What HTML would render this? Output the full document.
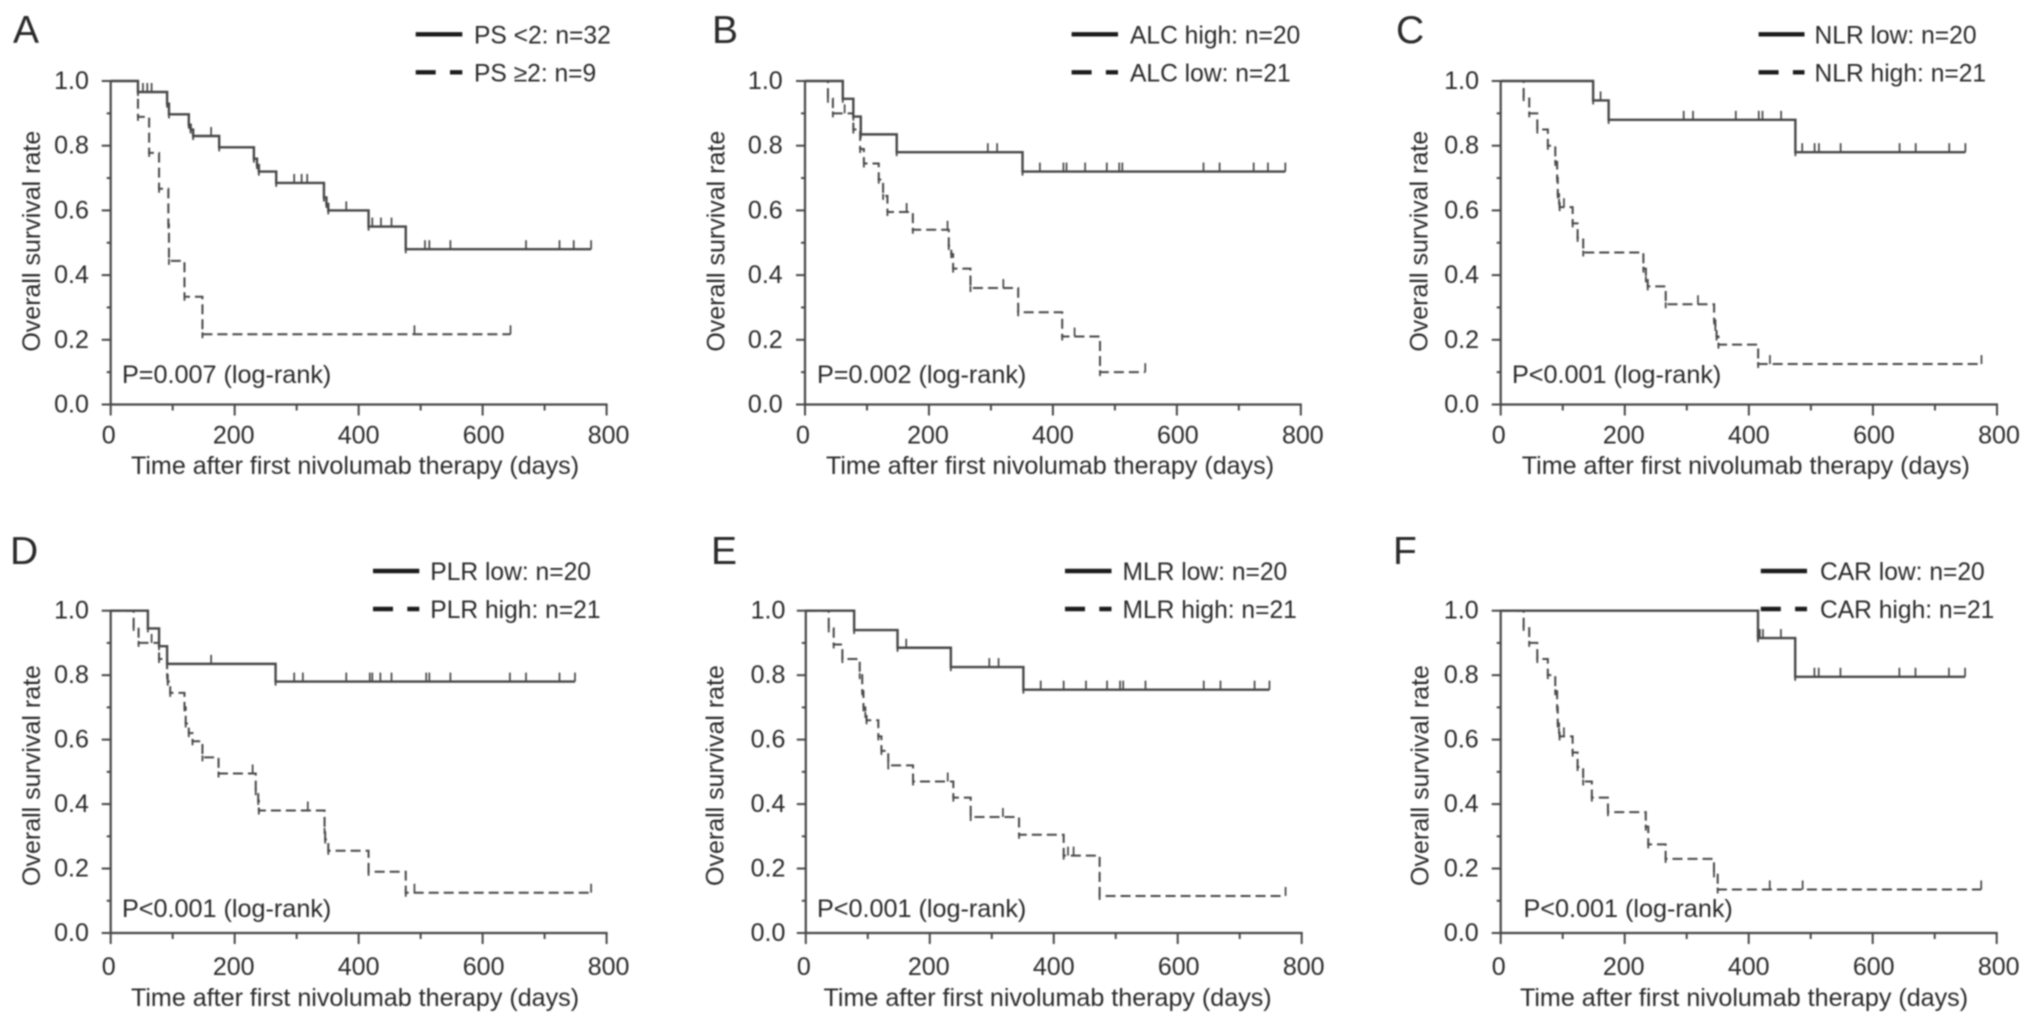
<!DOCTYPE html>
<html lang="en">
<head>
<meta charset="utf-8">
<title>Overall survival Kaplan-Meier curves</title>
<style>
html,body{margin:0;padding:0;background:#fff;}
#figure{display:block;width:2032px;height:1024px;filter:blur(0.7px);}
text{font-family:"Liberation Sans",sans-serif;fill:#2a2a2a;}
</style>
</head>
<body>
<svg id="figure" xmlns="http://www.w3.org/2000/svg" width="2032" height="1024" viewBox="0 0 2032 1024"></svg>
<script>
// Shared axis values
const xTickValues = [0, 200, 400, 600, 800];
const xMinorTickValues = [100, 300, 500, 700];
const yTickValues = [0, 0.2, 0.4, 0.6, 0.8, 1];
const yMinorTickValues = [0.1, 0.3, 0.5, 0.7, 0.9];
const yTickLabels = ['0.0', '0.2', '0.4', '0.6', '0.8', '1.0'];
const xTickLabels = ['0', '200', '400', '600', '800'];

// Panel A
const aSolidDays = [44, 91, 94, 126, 129, 133, 175, 231, 236, 239, 267, 344, 348, 351, 416, 476, 775];
const aSolidSurvival = [0.966, 0.93, 0.897, 0.865, 0.85, 0.83, 0.795, 0.76, 0.74, 0.72, 0.685, 0.64, 0.62, 0.6, 0.55, 0.48, 0.48];
const aSolidCensored = [52, 59, 66, 162, 296, 308, 317, 380, 422, 436, 453, 507, 514, 548, 670, 724, 747, 775];
const aDashedDays = [44, 62, 78, 93, 94, 119, 148, 645];
const aDashedSurvival = [0.889, 0.778, 0.667, 0.556, 0.444, 0.333, 0.217, 0.217];
const aDashedCensored = [490, 645];

// Panel B
const bSolidDays = [61, 78, 90, 148, 351, 775];
const bSolidSurvival = [0.945, 0.89, 0.835, 0.78, 0.72, 0.72];
const bSolidCensored = [295, 310, 379, 417, 422, 452, 487, 507, 512, 643, 669, 724, 747, 775];
const bDashedDays = [37, 45, 78, 89, 95, 119, 126, 133, 174, 232, 236, 239, 267, 344, 415, 476, 549];
const bDashedSurvival = [0.945, 0.9, 0.85, 0.79, 0.745, 0.695, 0.645, 0.595, 0.54, 0.49, 0.465, 0.42, 0.36, 0.285, 0.21, 0.1, 0.1];
const bDashedCensored = [64, 164, 230, 320, 435, 549];

// Panel C
const cSolidDays = [149, 174, 475, 749];
const cSolidSurvival = [0.94, 0.88, 0.78, 0.78];
const cSolidCensored = [161, 295, 310, 379, 416, 422, 452, 486, 506, 513, 548, 643, 669, 723, 749];
const cDashedDays = [37, 46, 59, 76, 88, 91, 92, 94, 95, 116, 124, 133, 230, 234, 237, 266, 344, 346, 348, 351, 415, 775];
const cDashedSurvival = [0.95, 0.9, 0.85, 0.8, 0.75, 0.7, 0.65, 0.63, 0.61, 0.56, 0.515, 0.47, 0.42, 0.39, 0.365, 0.31, 0.26, 0.24, 0.21, 0.185, 0.125, 0.125];
const cDashedCensored = [102, 318, 434, 775];

// Panel D
const dSolidDays = [60, 78, 91, 266, 749];
const dSolidSurvival = [0.945, 0.89, 0.835, 0.78, 0.78];
const dSolidCensored = [162, 296, 310, 380, 418, 422, 435, 453, 509, 514, 548, 644, 670, 724, 749];
const dDashedDays = [37, 45, 78, 91, 92, 96, 119, 121, 126, 132, 148, 174, 234, 238, 239, 345, 346, 351, 416, 476, 775];
const dDashedSurvival = [0.95, 0.9, 0.85, 0.8, 0.78, 0.745, 0.7, 0.65, 0.62, 0.595, 0.545, 0.495, 0.44, 0.41, 0.38, 0.32, 0.29, 0.255, 0.19, 0.125, 0.125];
const dDashedCensored = [66, 229, 318, 490, 775];

// Panel E
const eSolidDays = [78, 148, 234, 351, 748];
const eSolidSurvival = [0.94, 0.885, 0.825, 0.755, 0.755];
const eSolidCensored = [162, 296, 311, 379, 416, 452, 486, 507, 512, 548, 642, 669, 724, 748];
const eDashedDays = [37, 45, 59, 87, 91, 93, 96, 98, 117, 122, 133, 173, 238, 266, 344, 416, 474, 774];
const eDashedSurvival = [0.945, 0.895, 0.85, 0.8, 0.75, 0.7, 0.68, 0.66, 0.61, 0.565, 0.52, 0.47, 0.42, 0.36, 0.305, 0.24, 0.115, 0.115];
const eDashedCensored = [229, 318, 423, 432, 774];

// Panel F
const fSolidDays = [415, 475, 749];
const fSolidSurvival = [0.915, 0.795, 0.795];
const fSolidCensored = [418, 423, 452, 506, 513, 548, 643, 669, 723, 749];
const fDashedDays = [37, 46, 59, 76, 88, 91, 92, 94, 95, 116, 124, 133, 147, 173, 234, 238, 266, 344, 350, 775];
const fDashedSurvival = [0.95, 0.9, 0.85, 0.8, 0.75, 0.7, 0.65, 0.63, 0.61, 0.56, 0.515, 0.47, 0.42, 0.375, 0.33, 0.275, 0.23, 0.185, 0.135, 0.135];
const fDashedCensored = [102, 434, 487, 775];

const panels = [
  {key:'a', letter:'A', letterX:13, letterY:43, x0:110.7, x800:606.6, yTop:81, yBottom:404.5, yLabelX:88.9, yTitleX:39.9, yTitleY:241.2, xTitleX:355, xTitleY:474, xLabelY:443.3,
   legendLine:[415.7,462.3], legendText:474, legendY:[34.3,72.3], legend:['PS <2: n=32','PS ≥2: n=9'], pX:122, pY:383, pText:'P=0.007 (log-rank)',
   solidDays:aSolidDays, solidSurvival:aSolidSurvival, solidCensored:aSolidCensored, dashedDays:aDashedDays, dashedSurvival:aDashedSurvival, dashedCensored:aDashedCensored},
  {key:'b', letter:'B', letterX:712, letterY:43, x0:805, x800:1300.8, yTop:81, yBottom:404.5, yLabelX:782.7, yTitleX:724.7, yTitleY:241.2, xTitleX:1050, xTitleY:474, xLabelY:443.3,
   legendLine:[1071.6,1118], legendText:1130, legendY:[34.3,72.3], legend:['ALC high: n=20','ALC low: n=21'], pX:817, pY:383, pText:'P=0.002 (log-rank)',
   solidDays:bSolidDays, solidSurvival:bSolidSurvival, solidCensored:bSolidCensored, dashedDays:bDashedDays, dashedSurvival:bDashedSurvival, dashedCensored:bDashedCensored},
  {key:'c', letter:'C', letterX:1396, letterY:43, x0:1500.7, x800:1997, yTop:81, yBottom:404.5, yLabelX:1479, yTitleX:1427.7, yTitleY:241.2, xTitleX:1745.8, xTitleY:474, xLabelY:443.3,
   legendLine:[1758.6,1804.5], legendText:1814.5, legendY:[34.3,72.3], legend:['NLR low: n=20','NLR high: n=21'], pX:1512, pY:383, pText:'P<0.001 (log-rank)',
   solidDays:cSolidDays, solidSurvival:cSolidSurvival, solidCensored:cSolidCensored, dashedDays:cDashedDays, dashedSurvival:cDashedSurvival, dashedCensored:cDashedCensored},
  {key:'d', letter:'D', letterX:10, letterY:564, x0:110.7, x800:606.6, yTop:610.7, yBottom:933, yLabelX:88.9, yTitleX:39.9, yTitleY:775.5, xTitleX:355, xTitleY:1006, xLabelY:975,
   legendLine:[373,419.3], legendText:430.3, legendY:[571,609], legend:['PLR low: n=20','PLR high: n=21'], pX:122, pY:917, pText:'P<0.001 (log-rank)',
   solidDays:dSolidDays, solidSurvival:dSolidSurvival, solidCensored:dSolidCensored, dashedDays:dDashedDays, dashedSurvival:dDashedSurvival, dashedCensored:dDashedCensored},
  {key:'e', letter:'E', letterX:711, letterY:564, x0:805.8, x800:1301.7, yTop:610.7, yBottom:933, yLabelX:785.4, yTitleX:723.4, yTitleY:775.5, xTitleX:1047.6, xTitleY:1006, xLabelY:975,
   legendLine:[1065,1111.5], legendText:1122.5, legendY:[571,609], legend:['MLR low: n=20','MLR high: n=21'], pX:817, pY:917, pText:'P<0.001 (log-rank)',
   solidDays:eSolidDays, solidSurvival:eSolidSurvival, solidCensored:eSolidCensored, dashedDays:eDashedDays, dashedSurvival:eDashedSurvival, dashedCensored:eDashedCensored},
  {key:'f', letter:'F', letterX:1393, letterY:564, x0:1500.7, x800:1996.7, yTop:610.7, yBottom:933, yLabelX:1478.7, yTitleX:1428.6, yTitleY:775.5, xTitleX:1744, xTitleY:1006, xLabelY:975,
   legendLine:[1760.8,1807], legendText:1820, legendY:[571,609], legend:['CAR low: n=20','CAR high: n=21'], pX:1523.5, pY:917, pText:'P<0.001 (log-rank)',
   solidDays:fSolidDays, solidSurvival:fSolidSurvival, solidCensored:fSolidCensored, dashedDays:fDashedDays, dashedSurvival:fDashedSurvival, dashedCensored:fDashedCensored}
];

const NS = 'http://www.w3.org/2000/svg';
const svg = document.getElementById('figure');
const AXIS = '#474747';
const CURVE = '#474747';

function make(parent, tag, attrs, content) {
  const node = document.createElementNS(NS, tag);
  for (const k in attrs) node.setAttribute(k, attrs[k]);
  if (content !== undefined) node.textContent = content;
  parent.appendChild(node);
  return node;
}

function survivalAt(days, survival, t) {
  let s = 1;
  for (let i = 0; i < days.length; i++) {
    if (days[i] <= t) s = survival[i];
  }
  return s;
}

function stepPath(days, survival, X, Y) {
  let d = 'M' + X(0) + ' ' + Y(1);
  for (let i = 0; i < days.length; i++) {
    d += 'H' + X(days[i]).toFixed(2) + 'V' + Y(survival[i]).toFixed(2);
  }
  return d;
}

function stubPath(days, survival, X, Y) {
  let d = '';
  for (let i = 0; i < days.length - 1; i++) {
    const yy = Y(survival[i]);
    d += 'M' + X(days[i]).toFixed(2) + ' ' + (yy - 2).toFixed(2) + 'V' + (yy + 4).toFixed(2);
  }
  return d;
}

function drawCurve(group, days, survival, censored, X, Y, dashed) {
  const path = make(group, 'path', {
    d: stepPath(days, survival, X, Y), fill: 'none', stroke: CURVE,
    'stroke-width': dashed ? 2 : 2.4,
    'stroke-dasharray': dashed ? '10 5' : 'none'
  });
  
  
  const stubs = make(group, 'path', {d: stubPath(days, survival, X, Y), fill: 'none', stroke: CURVE, 'stroke-width': 1.8});
  
  
  censored.forEach(function (t) {
    const yy = Y(survivalAt(days, survival, t));
    const tick = make(group, 'line', {x1: X(t), x2: X(t), y1: yy, y2: yy - 9, stroke: CURVE, 'stroke-width': 1.7});
    
    
  });
}

panels.forEach(function (p) {
  const X = function (v) { return p.x0 + (p.x800 - p.x0) * v / 800; };
  const Y = function (v) { return p.yBottom - (p.yBottom - p.yTop) * v; };

  const g = make(svg, 'g', {});
  
  

  const letter = make(g, 'text', {x: p.letterX, y: p.letterY, 'font-size': 39}, p.letter);
  
  

  const yAxis = make(g, 'line', {x1: p.x0, x2: p.x0, y1: p.yTop - 1, y2: p.yBottom + 1, stroke: AXIS, 'stroke-width': 2.2});
  
  

  const xAxis = make(g, 'line', {x1: p.x0 - 1, x2: p.x800 + 1, y1: p.yBottom, y2: p.yBottom, stroke: AXIS, 'stroke-width': 2.2});
  
  

  yTickValues.forEach(function (v, i) {
    const t = make(g, 'line', {x1: p.x0 - 9, x2: p.x0, y1: Y(v), y2: Y(v), stroke: AXIS, 'stroke-width': 2});
    
    
    const l = make(g, 'text', {x: p.yLabelX, y: Y(v) + 8, 'font-size': 25, 'text-anchor': 'end'}, yTickLabels[i]);
    
    
  });
  yMinorTickValues.forEach(function (v) {
    const t = make(g, 'line', {x1: p.x0 - 4, x2: p.x0, y1: Y(v), y2: Y(v), stroke: AXIS, 'stroke-width': 2});
    
    
  });
  xTickValues.forEach(function (v, i) {
    const t = make(g, 'line', {x1: X(v), x2: X(v), y1: p.yBottom, y2: p.yBottom + 11, stroke: AXIS, 'stroke-width': 2});
    
    
    const l = make(g, 'text', {x: X(v) - 2 + 4 * v / 800, y: p.xLabelY, 'font-size': 25, 'text-anchor': 'middle'}, xTickLabels[i]);
    
    
  });
  xMinorTickValues.forEach(function (v) {
    const t = make(g, 'line', {x1: X(v), x2: X(v), y1: p.yBottom, y2: p.yBottom + 6, stroke: AXIS, 'stroke-width': 2});
    
    
  });

  const xTitle = make(g, 'text', {x: p.xTitleX, y: p.xTitleY, 'font-size': 25.1, 'text-anchor': 'middle'}, 'Time after first nivolumab therapy (days)');
  
  

  const yTitle = make(g, 'text', {x: p.yTitleX, y: p.yTitleY, 'font-size': 25, 'text-anchor': 'middle', transform: 'rotate(-90 ' + p.yTitleX + ' ' + p.yTitleY + ')'}, 'Overall survival rate');
  
  

  drawCurve(g, p.dashedDays, p.dashedSurvival, p.dashedCensored, X, Y, true);
  drawCurve(g, p.solidDays, p.solidSurvival, p.solidCensored, X, Y, false);

  const pValue = make(g, 'text', {x: p.pX, y: p.pY, 'font-size': 25.2}, p.pText);
  
  

  const solidKey = make(g, 'line', {x1: p.legendLine[0], x2: p.legendLine[1], y1: p.legendY[0], y2: p.legendY[0], stroke: '#1c1c1c', 'stroke-width': 4.4});
  
  

  const dashedKey = make(g, 'line', {x1: p.legendLine[0], x2: p.legendLine[1], y1: p.legendY[1], y2: p.legendY[1], stroke: '#1c1c1c', 'stroke-width': 4.4, 'stroke-dasharray': '20 14.3 12.3'});
  
  

  const solidLabel = make(g, 'text', {x: p.legendText, y: p.legendY[0] + 9, 'font-size': 24.6}, p.legend[0]);
  
  

  const dashedLabel = make(g, 'text', {x: p.legendText, y: p.legendY[1] + 9, 'font-size': 24.6}, p.legend[1]);
  
  
});
</script>
</body>
</html>
